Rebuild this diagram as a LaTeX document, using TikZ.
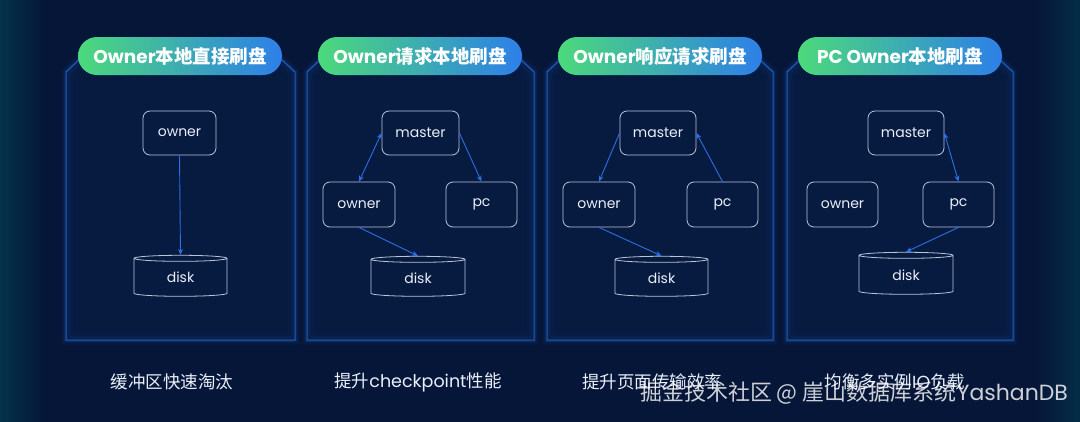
\documentclass[tikz,border=0pt]{standalone}
\usepackage{fontspec}
\setmainfont{Noto Sans CJK SC}
\newfontfamily\cjk{Noto Sans CJK SC}
\newfontfamily\pop{Poppins}
\usetikzlibrary{shapes.geometric,arrows.meta}
\definecolor{bg}{HTML}{061638}
\definecolor{panelfill}{HTML}{071A40}
\definecolor{panelline}{HTML}{1F5FBF}
\definecolor{boxline}{HTML}{B8C4DC}
\definecolor{arrowc}{HTML}{2E6EE6}
\definecolor{txt}{HTML}{EAF0FA}
\definecolor{pillg}{HTML}{4CD97B}
\definecolor{pillb}{HTML}{2D7FE8}
\tikzset{
  box/.style={draw=boxline, line width=0.8pt, rounded corners=7pt, text=txt, font=\pop\fontsize{14}{16}\selectfont, inner sep=0pt},
  diskbox/.style={draw=boxline, line width=0.8pt, shape=cylinder, shape border rotate=90, aspect=0.22, text=txt, font=\pop\fontsize{14}{16}\selectfont, inner sep=0pt},
  link/.style={draw=arrowc, line width=0.9pt, -{Stealth[length=6pt,width=5pt]}},
  dlink/.style={draw=arrowc, line width=0.9pt, {Stealth[length=6pt,width=5pt]}-{Stealth[length=6pt,width=5pt]}},
  pill/.style={rounded corners=19pt, left color=pillg, right color=pillb, minimum width=204pt, minimum height=38pt, text=white, inner sep=0pt},
  caption/.style={text=txt, font=\cjk\fontsize{17.5}{20}\selectfont},
}
\newcommand\panelframe[2]{% left x, right x
  \foreach \w/\o in {9/0.05,6/0.08,3.5/0.15}{
    \draw[panelline, line width=\w pt, opacity=\o] (#1,72) -- (#1+13,60) -- (#2-13,60) -- (#2,72) -- (#2,340) -- (#1,340) -- cycle;}
  \fill[panelfill] (#1,72) -- (#1+13,60) -- (#2-13,60) -- (#2,72) -- (#2,340) -- (#1,340) -- cycle;
  \foreach \w/\o in {14/0.05,8/0.07}{
    \begin{scope}
    \clip (#1,72) -- (#1+13,60) -- (#2-13,60) -- (#2,72) -- (#2,340) -- (#1,340) -- cycle;
    \draw[panelline, line width=\w pt, opacity=\o] (#1,72) -- (#1+13,60) -- (#2-13,60) -- (#2,72) -- (#2,340) -- (#1,340) -- cycle;
    \end{scope}}
  \draw[panelline, line width=1pt] (#1,72) -- (#1+13,60) -- (#2-13,60) -- (#2,72) -- (#2,340) -- (#1,340) -- cycle;
}
\begin{document}
\begin{tikzpicture}[x=1pt,y=-1pt]
\useasboundingbox (0,0) rectangle (1080,421);
\fill[bg] (-6,-6) rectangle (1086,427);
\shade[left color=bg!70!teal, right color=bg] (-6,-6) rectangle (45,427);
\shade[right color=bg!75!teal, left color=bg] (1035,-6) rectangle (1086,427);

% panels
\panelframe{66}{295}
\panelframe{307}{534}
\panelframe{547}{773}
\panelframe{787}{1013}

% titles
\node[pill] (t1) at (180,56) {\pop\bfseries\fontsize{18.5}{20}\selectfont Owner\cjk\bfseries 本地直接刷盘};
\node[pill] (t2) at (420,56) {\pop\bfseries\fontsize{18.5}{20}\selectfont Owner\cjk\bfseries 请求本地刷盘};
\node[pill] (t3) at (660,56) {\pop\bfseries\fontsize{18.5}{20}\selectfont Owner\cjk\bfseries 响应请求刷盘};
\node[pill] (t4) at (900,56) {\pop\bfseries\fontsize{18.5}{20}\selectfont PC Owner\cjk\bfseries 本地刷盘};

% panel 1
\node[box, minimum width=73pt, minimum height=44pt] (o1) at (179.5,133) {owner};
\node[diskbox, minimum width=93pt, minimum height=41pt] (d1) at (180.5,277.5) {disk};
\draw[link] (o1.south) -- (d1.north);

% panel 2
\node[box, minimum width=77pt, minimum height=44pt] (m2) at (420.5,133) {master};
\node[box, minimum width=72pt, minimum height=45pt] (o2) at (359,204.5) {owner};
\node[box, minimum width=71pt, minimum height=45pt] (p2) at (481.5,204.5) {pc};
\node[diskbox, minimum width=94pt, minimum height=40pt] (d2) at (418,278) {disk};
\draw[dlink] (o2.north) -- (m2.west);
\draw[link] (m2.east) -- (p2.north);
\draw[link] (o2.south) -- (d2.north);

% panel 3
\node[box, minimum width=76pt, minimum height=44pt] (m3) at (658,133) {master};
\node[box, minimum width=72pt, minimum height=45pt] (o3) at (599,204.5) {owner};
\node[box, minimum width=71pt, minimum height=45pt] (p3) at (722.5,204.5) {pc};
\node[diskbox, minimum width=93pt, minimum height=40pt] (d3) at (661.5,278) {disk};
\draw[link] (m3.west) -- (o3.north);
\draw[link] (p3.north) -- (m3.east);
\draw[link] (o3.south) -- (d3.north);

% panel 4
\node[box, minimum width=76pt, minimum height=44pt] (m4) at (906,133) {master};
\node[box, minimum width=71pt, minimum height=45pt] (o4) at (842.5,204.5) {owner};
\node[box, minimum width=71pt, minimum height=45pt] (p4) at (958.5,204.5) {pc};
\node[diskbox, minimum width=94pt, minimum height=42pt] (d4) at (906,275) {disk};
\draw[dlink] (m4.east) -- (p4.north);
\draw[link] (p4.south) -- (d4.north);

% captions
\node[caption] (c1) at (172,382) {缓冲区快速淘汰};
\node[caption] (c2) at (418,382) {提升{\pop checkpoint}性能};
\node[caption] (c3) at (652,382) {提升页面传输效率};
\node[caption] (c4) at (895,382) {均衡多实例{\pop IO}负载};

% watermark
\node[text=white, opacity=0.8, font=\cjk\fontsize{22}{24}\selectfont] (wm) at (854,393) {掘金技术社区 @ 崖山数据库系统{\pop YashanDB}};
\end{tikzpicture}
\end{document}
